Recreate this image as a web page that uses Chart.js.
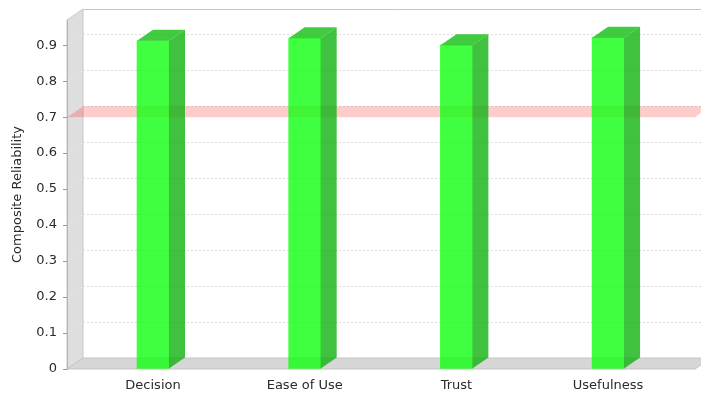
<!DOCTYPE html>
<html>
<head>
<meta charset="utf-8">
<script src="https://cdn.jsdelivr.net/npm/chart.js@4.4.1/dist/chart.umd.min.js"></script>
<style>
  html, body { margin: 0; padding: 0; background: #fff; }
  #wrap { width: 701px; height: 393px; }
</style>
</head>
<body>
<div id="wrap"><canvas id="myChart"></canvas></div>
<script>
var categories = ['Decision', 'Ease of Use', 'Trust', 'Usefulness'];
var reliability = [0.912, 0.919, 0.900, 0.921];
var yTicks = [0, 0.1, 0.2, 0.3, 0.4, 0.5, 0.6, 0.7, 0.8, 0.9];
var threshold = 0.7;

// depth of the fake 3d box
var DX = 16, DY = -11;

function quad(ctx, pts, fill, stroke) {
    ctx.beginPath();
    ctx.moveTo(pts[0][0], pts[0][1]);
    for (var i = 1; i < pts.length; i++) ctx.lineTo(pts[i][0], pts[i][1]);
    ctx.closePath();
    if (fill) { ctx.fillStyle = fill; ctx.fill(); }
    if (stroke) { ctx.strokeStyle = stroke; ctx.lineWidth = 1; ctx.stroke(); }
}

var threeD = {
    id: 'threeD',
    beforeDraw: function (chart) {
        var ctx = chart.ctx, a = chart.chartArea, ys = chart.scales.y;
        var L = a.left, R = a.right, T = a.top, B = a.bottom;
        ctx.save();
        // back wall top edge
        ctx.beginPath();
        ctx.moveTo(L + DX, T + DY + 0.5);
        ctx.lineTo(R + DX, T + DY + 0.5);
        ctx.strokeStyle = '#c4c4c4';
        ctx.lineWidth = 1;
        ctx.stroke();
        // left wall
        quad(ctx, [[L, B], [L, T], [L + DX, T + DY], [L + DX, B + DY]], '#dedede', '#c8c8c8');
        // floor
        quad(ctx, [[L, B], [R, B], [R + DX, B + DY], [L + DX, B + DY]], '#d6d6d6', '#c4c4c4');

        // gridlines on the back wall + diagonals on the side wall
        ctx.setLineDash([2, 2]);
        ctx.lineWidth = 1;
        yTicks.forEach(function (v) {
            if (v === 0) return;
            var py = Math.round(ys.getPixelForValue(v)) + 0.5;
            ctx.strokeStyle = '#dcdcdc';
            ctx.beginPath();
            ctx.moveTo(L + DX, py + DY);
            ctx.lineTo(R + DX, py + DY);
            ctx.stroke();
            ctx.strokeStyle = '#ececec';
            ctx.beginPath();
            ctx.moveTo(L, py);
            ctx.lineTo(L + DX, py + DY);
            ctx.stroke();
        });
        ctx.setLineDash([]);

        // threshold band
        var ty = ys.getPixelForValue(threshold);
        quad(ctx, [[L, ty], [R, ty], [R + DX, ty + DY], [L + DX, ty + DY]], 'rgba(255,0,0,0.2)');
        ctx.restore();
    },
    afterDatasetsDraw: function (chart) {
        var ctx = chart.ctx;
        var meta = chart.getDatasetMeta(0);
        ctx.save();
        meta.data.forEach(function (bar) {
            var p = bar.getProps(['x', 'y', 'base', 'width'], true);
            var l = p.x - p.width / 2, r = p.x + p.width / 2;
            // side
            quad(ctx, [[r, p.y], [r + DX, p.y + DY], [r + DX, p.base + DY], [r, p.base]], 'rgba(16,178,16,0.8)');
            // top
            quad(ctx, [[l, p.y], [l + DX, p.y + DY], [r + DX, p.y + DY], [r, p.y]], 'rgba(16,190,16,0.8)');
        });
        ctx.restore();
    }
};

Chart.defaults.font.family = 'DejaVu Sans';
Chart.defaults.font.size = 13;
Chart.defaults.color = '#2a2a2a';

var ctx = document.getElementById('myChart').getContext('2d');
var chart = new Chart(ctx, {
    type: 'bar',
    data: {
        datasets: [{
            data: categories.map(function (c, i) { return { x: i, y: reliability[i] }; }),
            backgroundColor: 'rgba(16,255,16,0.8)',
            borderWidth: 0,
            barThickness: 32
        }]
    },
    options: {
        responsive: true,
        maintainAspectRatio: false,
        animation: false,
        layout: { padding: { top: 20, right: 6, left: 0, bottom: 0 } },
        plugins: {
            legend: { display: false },
            tooltip: { enabled: false }
        },
        scales: {
            x: {
                type: 'linear',
                offset: false,
                min: -0.567,
                max: 3.573,
                afterBuildTicks: function (s) {
                    s.ticks = categories.map(function (c, i) { return { value: i }; });
                },
                afterFit: function (s) { s.height = 24; },
                ticks: {
                    padding: 9,
                    autoSkip: false,
                    maxRotation: 0,
                    callback: function (v) { return categories[v]; }
                },
                grid: { display: false, drawTicks: false },
                border: { display: false }
            },
            y: {
                min: 0,
                max: 0.97,
                afterBuildTicks: function (s) {
                    s.ticks = yTicks.map(function (v) { return { value: v }; });
                },
                afterFit: function (s) { s.width = 67; },
                ticks: { padding: 6 },
                grid: {
                    drawOnChartArea: false,
                    drawTicks: true,
                    tickLength: 4,
                    tickColor: '#999999'
                },
                border: { display: true, color: '#b4b4b4' },
                title: {
                    display: true,
                    text: 'Composite Reliability',
                    padding: { top: 10, bottom: 0 }
                }
            }
        }
    },
    plugins: [threeD]
});
</script>
</body>
</html>
